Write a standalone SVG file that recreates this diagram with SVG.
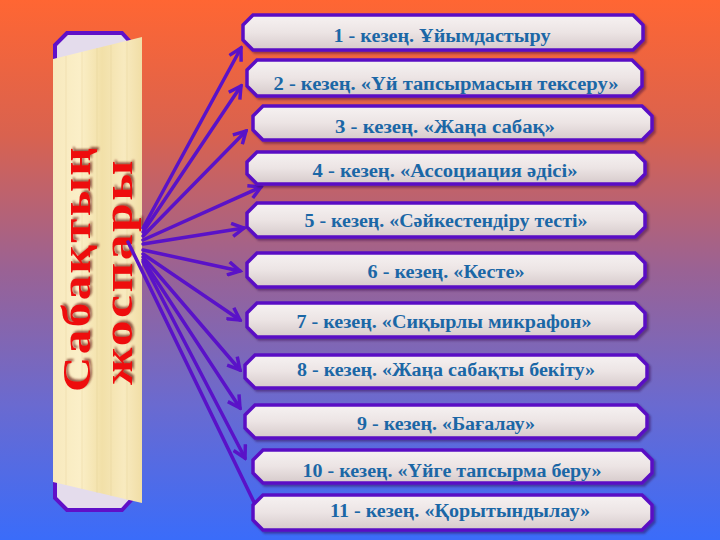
<svg xmlns="http://www.w3.org/2000/svg" width="720" height="540" viewBox="0 0 720 540">
  <defs>
    <linearGradient id="bg" x1="0" y1="0" x2="0" y2="1">
      <stop offset="0" stop-color="#ff6633"/>
      <stop offset="0.25" stop-color="#d9624f"/>
      <stop offset="0.5" stop-color="#9a6294"/>
      <stop offset="0.75" stop-color="#6a6ad0"/>
      <stop offset="1" stop-color="#3a6cfa"/>
    </linearGradient>
    <linearGradient id="boxfill" x1="0" y1="0" x2="0" y2="1">
      <stop offset="0" stop-color="#f6f2f2"/>
      <stop offset="0.5" stop-color="#ece4e4"/>
      <stop offset="1" stop-color="#d6cacb"/>
    </linearGradient>
    <linearGradient id="parch" x1="0" y1="0" x2="1" y2="0">
      <stop offset="0" stop-color="#f7e9bd"/>
      <stop offset="0.3" stop-color="#fbefc8"/>
      <stop offset="0.55" stop-color="#f2e0a8"/>
      <stop offset="0.8" stop-color="#f8eabf"/>
      <stop offset="1" stop-color="#f1dea6"/>
    </linearGradient>
    <filter id="shadow" x="-5%" y="-20%" width="110%" height="150%">
      <feDropShadow dx="2" dy="2" stdDeviation="1.2" flood-color="#2a0a40" flood-opacity="0.45"/>
    </filter>
    <filter id="tshadow" x="-20%" y="-20%" width="140%" height="140%">
      <feDropShadow dx="2" dy="2" stdDeviation="1" flood-color="#6a1a10" flood-opacity="0.7"/>
    </filter>
    <marker id="ah" markerUnits="userSpaceOnUse" markerWidth="16" markerHeight="16" viewBox="0 0 12 12" refX="10" refY="6" orient="auto">
      <path d="M1,1 L10,6 L1,11" fill="none" stroke="#5a12c8" stroke-width="2.6" stroke-linejoin="miter"/>
    </marker>
    <style>
      .box { fill: url(#boxfill); stroke: #5a0fc4; stroke-width: 3.5; filter: url(#shadow); }
      .lbl { font-family: "Liberation Serif", "Times New Roman", serif; font-weight: bold; font-size: 18px; fill: #1b67a6; text-anchor: middle; }
      .title { font-family: "Liberation Serif", "Times New Roman", serif; font-weight: bold; font-size: 40px; letter-spacing: 2px; fill: #ee1111; filter: url(#tshadow); }
      .arr { stroke: #5a12c8; stroke-width: 3.5; fill: none; marker-end: url(#ah); stroke-linecap: round; }
    </style>
  </defs>

  <rect x="0" y="0" width="720" height="540" fill="url(#bg)"/>

  <g id="title-panel">
    <path d="M67,33 H122 L133,45 V498 L122,510 H67 L55,498 V45 Z" fill="#e4dcec" stroke="#6010c8" stroke-width="4"/>
    <path d="M53,59 L142,37 L142,503 L53,482 Z" fill="url(#parch)"/>
    <g opacity="0.25" stroke="#d8c080" stroke-width="1">
      <line x1="66" y1="56" x2="66" y2="485"/>
      <line x1="82" y1="52" x2="82" y2="489"/>
      <line x1="97" y1="48" x2="97" y2="493"/>
      <line x1="111" y1="45" x2="111" y2="496"/>
      <line x1="127" y1="41" x2="127" y2="500"/>
    </g>
    <text class="title" transform="translate(90,392) rotate(-90)" textLength="247" lengthAdjust="spacingAndGlyphs">Сабақтың</text>
    <text class="title" transform="translate(132,385) rotate(-90)" textLength="227" lengthAdjust="spacingAndGlyphs">жоспары</text>
  </g>

  <g id="connectors">
    <line class="arr" x1="143" y1="228" x2="241" y2="48"/>
    <line class="arr" x1="143" y1="232" x2="241" y2="86"/>
    <line class="arr" x1="143" y1="236" x2="246" y2="131"/>
    <line class="arr" x1="143" y1="240" x2="261" y2="187"/>
    <line class="arr" x1="143" y1="244" x2="244" y2="228"/>
    <line class="arr" x1="143" y1="250" x2="240" y2="271"/>
    <line class="arr" x1="143" y1="254" x2="240" y2="320"/>
    <line class="arr" x1="143" y1="257" x2="240" y2="370"/>
    <line class="arr" x1="143" y1="260" x2="240" y2="408"/>
    <line class="arr" x1="143" y1="262" x2="245" y2="458"/>
    <line class="arr" x1="128" y1="242" x2="266" y2="527"/>
  </g>

  <g id="n1"><path class="box" d="M253,15 H633 L643,25 V40 L633,50 H253 L243,40 V25 Z"/><text class="lbl" x="442" y="42" textLength="217" lengthAdjust="spacingAndGlyphs">1 - кезең. Ұйымдастыру</text></g>
  <g id="n2"><path class="box" d="M257,60 H632 L642,70 V86 L632,96 H257 L247,86 V70 Z"/><text class="lbl" x="446" y="90" textLength="345" lengthAdjust="spacingAndGlyphs">2 - кезең. «Үй тапсырмасын тексеру»</text></g>
  <g id="n3"><path class="box" d="M263,106 H642 L652,116 V130 L642,140 H263 L253,130 V116 Z"/><text class="lbl" x="445" y="133" textLength="220" lengthAdjust="spacingAndGlyphs">3 - кезең. «Жаңа сабақ»</text></g>
  <g id="n4"><path class="box" d="M257,152 H635 L645,162 V174 L635,184 H257 L247,174 V162 Z"/><text class="lbl" x="445" y="177" textLength="265" lengthAdjust="spacingAndGlyphs">4 -  кезең. «Ассоциация әдісі»</text></g>
  <g id="n5"><path class="box" d="M257,203 H635 L645,213 V227 L635,237 H257 L247,227 V213 Z"/><text class="lbl" x="446" y="227" textLength="283" lengthAdjust="spacingAndGlyphs">5 - кезең. «Сәйкестендіру тесті»</text></g>
  <g id="n6"><path class="box" d="M257,253 H635 L645,263 V277 L635,287 H257 L247,277 V263 Z"/><text class="lbl" x="446" y="278" textLength="157" lengthAdjust="spacingAndGlyphs">6 - кезең. «Кесте»</text></g>
  <g id="n7"><path class="box" d="M257,303 H635 L645,313 V327 L635,337 H257 L247,327 V313 Z"/><text class="lbl" x="444" y="328" textLength="295" lengthAdjust="spacingAndGlyphs">7 - кезең. «Сиқырлы микрафон»</text></g>
  <g id="n8"><path class="box" d="M255,355 H637 L647,365 V378 L637,388 H255 L245,378 V365 Z"/><text class="lbl" x="446" y="376" textLength="298" lengthAdjust="spacingAndGlyphs">8 - кезең. «Жаңа сабақты бекіту»</text></g>
  <g id="n9"><path class="box" d="M255,405 H637 L647,415 V428 L637,438 H255 L245,428 V415 Z"/><text class="lbl" x="446" y="430" textLength="178" lengthAdjust="spacingAndGlyphs">9 - кезең. «Бағалау»</text></g>
  <g id="n10"><path class="box" d="M263,450 H642 L652,460 V473 L642,483 H263 L253,473 V460 Z"/><text class="lbl" x="452" y="477" textLength="299" lengthAdjust="spacingAndGlyphs">10 - кезең. «Үйге тапсырма беру»</text></g>
  <g id="n11"><path class="box" d="M263,495 H642 L652,505 V520 L642,530 H263 L253,520 V505 Z"/><text class="lbl" x="460" y="517" textLength="260" lengthAdjust="spacingAndGlyphs">11 - кезең. «Қорытындылау»</text></g>
</svg>
